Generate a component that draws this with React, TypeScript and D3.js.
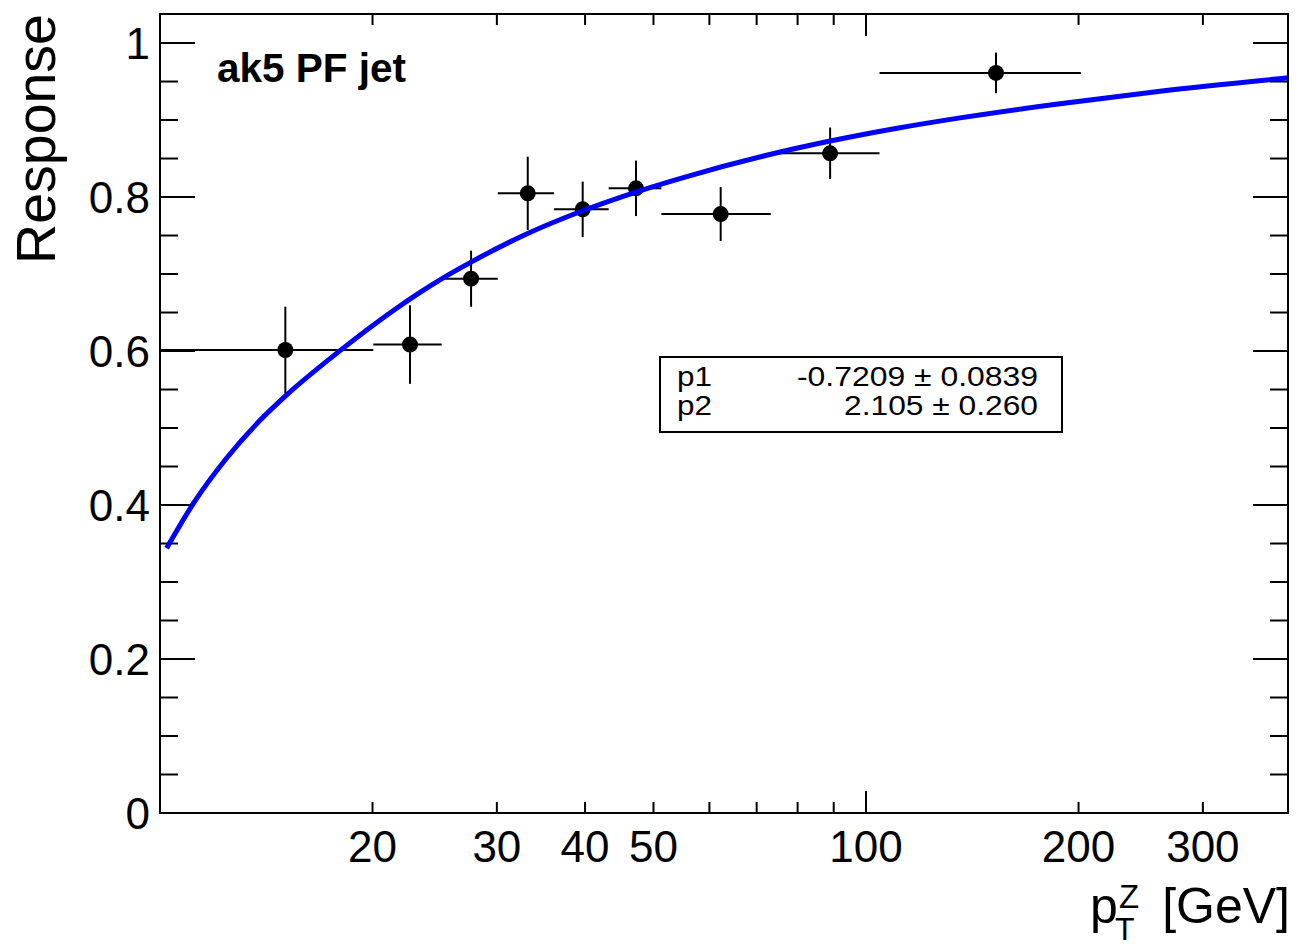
import React from "react";
import * as d3 from "d3";

// ---- data ----
const ptCenter = [15.05, 22.6, 27.58, 33.18, 39.69, 47.23, 62.25, 88.95, 152.8];
const ptLow = [10, 20.05, 25.06, 30.09, 36.15, 43.2, 51.3, 73.3, 104.5];
const ptHigh = [20.05, 25.06, 30.09, 36.15, 43.2, 51.3, 73.3, 104.5, 201.5];
const response = [0.6013, 0.6084, 0.6939, 0.8048, 0.784, 0.8113, 0.7779, 0.8568, 0.9612];
const responseErr = [0.0563, 0.051, 0.0364, 0.0476, 0.036, 0.036, 0.035, 0.0335, 0.0264];

// fit curve
const fitX = [10.22, 11.15, 12.43, 13.86, 15.05, 17.99, 21.41, 23.35, 25.19, 27.58, 33.05, 39.69, 47.23, 55.1, 72.3, 88.95, 111.7, 135.9, 188.3, 260.9, 396.5];
const fitY = [0.344, 0.402, 0.461, 0.51, 0.5414, 0.6005, 0.6527, 0.6762, 0.6951, 0.7155, 0.752, 0.7822, 0.8065, 0.8253, 0.8542, 0.8727, 0.89, 0.9028, 0.9212, 0.9375, 0.9548];

const xLabelTicks = [20, 30, 40, 50, 100, 200, 300];
const xMinorTicks = [20, 30, 40, 50, 60, 70, 80, 90, 200, 300];
const xMajorTicks = [100];
const yLabelTicks = [0, 0.2, 0.4, 0.6, 0.8, 1];
const yMinorTicks = d3.range(0, 21).map((i) => i * 0.05).filter((v) => v <= 1.03);

const fitParamNames = ["p1", "p2"];
const fitParamValues = ["-0.7209 ± 0.0839", "2.105 ± 0.260"];

const FONT = "'Liberation Sans', Arial, Helvetica, sans-serif";

export default function App() {
  const L = 160, R = 1288, T = 14, B = 813;
  const x = d3.scaleLog().domain([10, 396]).range([L, R]);
  const y = d3.scaleLinear().domain([0, 1.0377]).range([B, T]);

  const fitPts: [number, number][] = fitX.map((v, i) => [v, fitY[i]]);
  const line = d3
    .line<[number, number]>()
    .x((d) => x(d[0]))
    .y((d) => y(d[1]))
    .curve(d3.curveMonotoneX);

  const isMajorY = (v: number) => Math.abs(v * 5 - Math.round(v * 5)) < 1e-6;

  return (
    <svg
      width={1300}
      height={946}
      style={{ position: "absolute", left: 0, top: 0, display: "block", background: "#fff" }}
      fontFamily={FONT}
    >
      <rect x={0} y={0} width={1300} height={946} fill="#fff" />

      {/* y ticks left & right */}
      {yMinorTicks.map((v, i) => {
        const len = isMajorY(v) ? 35 : 18;
        return (
          <g key={"yt" + i} stroke="#000" strokeWidth={2}>
            <line x1={L} x2={L + len} y1={y(v)} y2={y(v)} />
            <line x1={R} x2={R - len} y1={y(v)} y2={y(v)} />
          </g>
        );
      })}
      {yLabelTicks.map((v) => (
        <text key={"yl" + v} x={150} y={y(v) + 16} fontSize={44} textAnchor="end">
          {d3.format("~g")(v)}
        </text>
      ))}

      {/* x ticks bottom & top */}
      {xMinorTicks.map((v) => (
        <g key={"xt" + v} stroke="#000" strokeWidth={2}>
          <line x1={x(v)} x2={x(v)} y1={B} y2={B - 11} />
          <line x1={x(v)} x2={x(v)} y1={T} y2={T + 11} />
        </g>
      ))}
      {xMajorTicks.map((v) => (
        <g key={"xM" + v} stroke="#000" strokeWidth={2}>
          <line x1={x(v)} x2={x(v)} y1={B} y2={B - 22} />
          <line x1={x(v)} x2={x(v)} y1={T} y2={T + 22} />
        </g>
      ))}
      {xLabelTicks.map((v) => (
        <text key={"xl" + v} x={x(v)} y={862} fontSize={44} textAnchor="middle">
          {v}
        </text>
      ))}

      {/* data points with error bars */}
      {response.map((r, i) => (
        <g key={"pt" + i} stroke="#000" strokeWidth={2}>
          <line x1={x(ptLow[i])} x2={x(ptHigh[i])} y1={y(r)} y2={y(r)} />
          <line x1={x(ptCenter[i])} x2={x(ptCenter[i])} y1={y(r - responseErr[i])} y2={y(r + responseErr[i])} />
          <circle cx={x(ptCenter[i])} cy={y(r)} r={8} fill="#000" stroke="none" />
        </g>
      ))}

      {/* fit curve */}
      <path d={line(fitPts) || ""} fill="none" stroke="#0000ff" strokeWidth={5} />

      {/* frame */}
      <rect x={L} y={T} width={R - L} height={B - T} fill="none" stroke="#000" strokeWidth={2} />

      {/* label */}
      <text x={217} y={82} fontSize={40.5} fontWeight="bold">ak5 PF jet</text>

      {/* fit box */}
      <rect x={660} y={357} width={402} height={75} fill="#fff" stroke="#000" strokeWidth={2} />
      {fitParamNames.map((n, i) => (
        <text key={"pn" + i} x={677} y={386 + i * 28.5} fontSize={27} textLength={35} lengthAdjust="spacingAndGlyphs">
          {n}
        </text>
      ))}
      {fitParamValues.map((v, i) => (
        <text
          key={"pv" + i}
          x={1038}
          y={386 + i * 28.5}
          fontSize={27}
          textAnchor="end"
          textLength={i === 0 ? 241 : 194}
          lengthAdjust="spacingAndGlyphs"
        >
          {v}
        </text>
      ))}

      {/* axis titles */}
      <text transform="translate(55,14) rotate(-90)" fontSize={55.5} textAnchor="end">Response</text>
      <text x={1090} y={923} fontSize={50}>p</text>
      <text x={1119} y={908} fontSize={33}>Z</text>
      <text x={1115} y={940} fontSize={32}>T</text>
      <text x={1290} y={923} fontSize={50} textAnchor="end">[GeV]</text>
    </svg>
  );
}
